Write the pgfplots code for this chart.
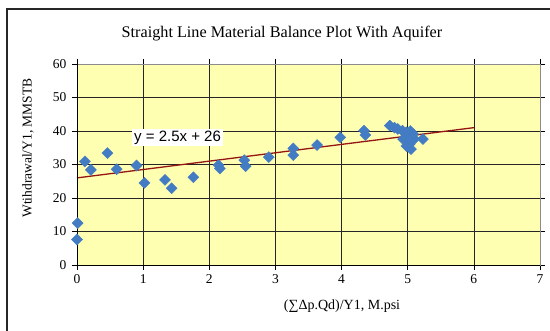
\documentclass[border=0pt]{standalone}
\usepackage{pgfplots}
\pgfplotsset{compat=1.18}
\usepackage{fontspec}
\setmainfont{Liberation Serif}
\newfontfamily\arial{Liberation Sans}
\definecolor{plotbg}{RGB}{255,255,178}
\definecolor{mblue}{RGB}{68,124,196}
\definecolor{lred}{RGB}{150,20,20}
\begin{document}
\begin{tikzpicture}[x=1pt,y=1pt]
\path[use as bounding box] (0,0) rectangle (550,331);
\draw[line width=2pt, black!85] (7,-2) -- (7,322) -- (552,322);
\node[font=\fontsize{16.2}{18}\selectfont] at (282,297) {Straight Line Material Balance Plot With Aquifer};
\node[font=\fontsize{14}{16}\selectfont] at (342,25) {(∑Δp.Qd)/Y1, M.psi};
\node[font=\fontsize{13.5}{15}\selectfont, rotate=90] at (28,183) {Wtihdrawal/Y1, MMSTB};
\begin{axis}[at={(77pt,66pt)}, anchor=south west, scale only axis,
  width=463pt, height=201pt,
  xmin=0, xmax=7, ymin=0, ymax=60,
  xtick={0,1,...,7}, ytick={0,10,...,60},
  grid=major, major grid style={black!85, line width=0.6pt},
  axis background/.style={fill=plotbg},
  axis line style={black!45, line width=0.8pt},
  tick align=outside, major tick length=5pt,
  tick style={black, line width=0.6pt},
  ticklabel style={font=\fontsize{13.5}{15}\selectfont},
  /pgf/number format/assume math mode=true,
  xticklabel style={yshift=-1pt},
  yticklabel style={xshift=-2pt},
  clip=false,
]
\addplot[only marks, mark=square*, mark size=3.9pt, mark options={rotate=45, fill=mblue, draw=mblue}] coordinates {
(0.01,12.5) (0.00,7.6) (0.12,30.9) (0.21,28.4) (0.46,33.4) (0.60,28.6)
(0.90,29.7) (1.02,24.5) (1.33,25.4) (1.43,22.9) (1.76,26.2) (2.14,29.8)
(2.16,28.8) (2.53,31.3) (2.55,29.5) (2.90,32.2) (3.27,34.8) (3.27,32.8)
(3.63,35.8) (3.98,38.1) (4.34,40.1) (4.36,38.8) (4.73,41.6) (4.80,41.0)
(4.85,40.6) (4.92,40.1) (4.98,39.6) (5.08,39.1) (5.04,40.0) (4.93,37.6)
(5.10,37.6) (5.03,36.1) (5.05,34.6) (4.98,35.5) (5.23,37.6) (5.00,38.5)
};
\addplot[lred, line width=1.3pt] coordinates {(0,26) (6,41)};
\draw[black, line width=0.8pt] (axis cs:0,60) -- (axis cs:0,0) -- (axis cs:7,0);
\node[fill=white, inner sep=2pt, font=\arial\fontsize{15}{17}\selectfont] at (axis cs:1.52,38.0) {y = 2.5x + 26};
\end{axis}
\end{tikzpicture}
\end{document}
